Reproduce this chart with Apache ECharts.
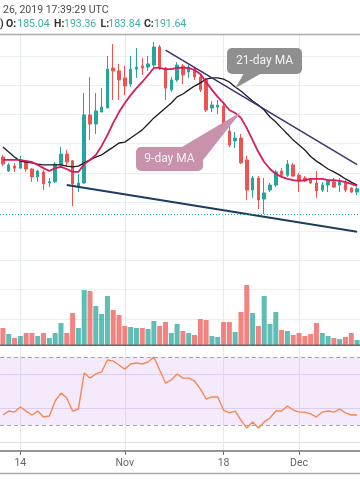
<!DOCTYPE html>
<html><head><meta charset="utf-8">
<script src="https://cdn.jsdelivr.net/npm/echarts@6/dist/echarts.min.js"></script>
<style>html,body{margin:0;padding:0;background:#fff;}#c{width:360px;height:504px;}</style>
</head><body><div id="c"></div>
<script>
const categories = [
 '2019-10-11','2019-10-12','2019-10-13','2019-10-14','2019-10-15','2019-10-16','2019-10-17','2019-10-18','2019-10-19','2019-10-20',
 '2019-10-21','2019-10-22','2019-10-23','2019-10-24','2019-10-25','2019-10-26','2019-10-27','2019-10-28','2019-10-29','2019-10-30',
 '2019-10-31','2019-11-01','2019-11-02','2019-11-03','2019-11-04','2019-11-05','2019-11-06','2019-11-07','2019-11-08','2019-11-09',
 '2019-11-10','2019-11-11','2019-11-12','2019-11-13','2019-11-14','2019-11-15','2019-11-16','2019-11-17','2019-11-18','2019-11-19',
 '2019-11-20','2019-11-21','2019-11-22','2019-11-23','2019-11-24','2019-11-25','2019-11-26','2019-11-27','2019-11-28','2019-11-29',
 '2019-11-30','2019-12-01','2019-12-02','2019-12-03','2019-12-04','2019-12-05','2019-12-06','2019-12-07','2019-12-08','2019-12-09',
 '2019-12-10','2019-12-11'
];
// [open, close, low, high]
const ohlc = [
 [155.4,153.0,152.3,156.1],[150.6,152.7,150.3,153.4],[152.3,151.6,150.3,153.4],[151.6,154.1,151.6,155.8],
 [154.1,151.3,150.3,154.4],[151.3,148.6,146.9,151.6],[148.6,150.6,146.9,151.0],[150.3,146.2,144.1,151.0],
 [146.5,146.9,145.1,148.2],[146.9,153.0,146.5,153.7],[152.7,156.4,152.3,158.8],[156.4,153.7,152.0,157.8],
 [154.1,146.2,138.6,154.4],[145.1,146.5,143.4,149.6],[146.5,169.8,146.2,177.3],[169.8,166.7,161.2,182.8],
 [166.7,171.2,163.3,177.3],[170.8,172.5,170.8,179.0],[172.2,185.5,172.2,190.0],[185.9,184.9,174.9,194.1],
 [184.9,181.8,174.9,187.3],[182.5,179.7,176.6,186.6],[180.4,185.5,179.4,190.0],[185.5,186.2,182.5,192.7],
 [186.6,185.9,183.5,189.3],[186.2,187.3,184.9,190.0],[186.9,193.1,186.2,194.8],[193.1,185.9,185.2,193.8],
 [185.9,179.0,174.9,186.2],[178.4,181.8,177.7,182.8],[181.8,186.9,181.1,187.9],[186.6,183.5,180.4,187.3],
 [184.5,186.2,182.5,186.9],[185.5,182.8,181.8,186.2],[182.8,178.4,177.7,183.8],[181.8,171.5,170.8,182.5],
 [172.2,173.2,170.8,174.6],[172.5,173.2,170.1,174.9],[172.9,165.7,165.3,173.9],[164.3,159.5,158.8,166.4],
 [160.9,161.9,158.5,164.0],[161.9,153.4,153.0,163.3],[154.4,144.1,140.7,155.8],[144.1,148.2,141.4,148.9],
 [148.2,140.7,137.6,148.9],[141.0,143.1,135.9,148.2],[144.1,145.8,143.4,146.5],[145.8,150.3,145.1,151.0],
 [150.6,149.2,148.6,151.6],[149.2,153.0,148.6,154.4],[152.7,148.9,148.6,153.4],[149.2,147.2,143.4,149.9],
 [148.2,147.2,146.9,148.9],[147.9,146.5,146.2,148.2],[146.5,143.8,141.4,150.6],[144.1,145.8,143.4,146.9],
 [145.8,147.2,143.4,147.5],[146.9,145.1,144.8,148.2],[145.8,146.9,143.4,148.2],[146.5,144.1,143.4,147.5],
 [144.8,143.4,143.1,145.1],[143.4,144.5,142.4,145.1]
];
const volume = [
 17,11,7,9,12,12,9,12,7,12, 22,12,32,17,55,54,39,31,49,35,
 30,19,18,17,17,16,24,19,23,12, 21,14,12,10,26,25,9,8,23,23,
 13,33,60,32,19,49,21,33,15,14, 10,12,9,11,22,12,9,7,6,8, 12,5
];
const ma9 = [
 154.4,154.4,154.4,154.4,154.0,153.7,152.7,151.6,150.6,151.6,
 152.0,151.3,150.3,150.3,153.0,154.4,156.1,159.2,162.9,167.1,
 170.8,173.9,176.6,179.0,181.1,183.5,185.9,185.9,185.5,185.5,
 185.9,185.9,185.9,185.2,183.8,181.1,178.4,176.0,173.9,171.5,
 170.5,168.8,165.3,161.2,157.1,153.7,151.3,149.6,148.6,147.9,
 147.5,147.2,147.5,147.9,147.9,147.9,147.5,147.5,147.2,146.8,
 146.2,145.5
];
const ma21 = [
 158.8,157.1,155.4,154.0,153.7,153.4,153.0,152.7,152.7,152.7,
 152.7,152.3,152.0,152.3,153.4,154.4,155.4,156.1,157.5,158.8,
 160.2,160.5,161.9,163.3,164.7,166.7,168.8,170.5,172.2,173.9,
 176.0,177.0,178.4,179.7,180.8,182.1,182.5,182.5,182.1,181.1,
 179.4,178.0,176.3,174.6,173.2,171.5,169.1,167.4,165.3,163.3,
 161.2,159.5,157.8,155.6,154.0,152.7,151.3,150.3,149.2,147.9,
 146.8,145.8
];
const rsi = [
 35.9,38.2,37.6,40.6,38.2,35.9,38.2,34.7,35.3,44.1,
 48.8,45.9,38.2,39.4,60.6,57.6,60.0,61.2,68.2,67.6,
 65.3,62.9,65.9,66.5,65.9,67.1,70.0,62.4,54.7,56.5,
 60.0,57.6,57.6,55.9,51.2,45.3,46.5,46.5,38.8,37.1,
 38.2,32.9,28.2,31.8,28.2,31.8,34.1,38.2,38.2,41.2,
 38.8,37.6,37.6,36.5,34.7,37.6,38.2,37.6,39.4,37.1,
 35.9,35.9
];
const upperTrend = [['2019-11-08', 192.0], ['2019-12-11', 152.8]];
const lowerTrend = [['2019-10-22', 145.8], ['2019-12-11', 129.8]];
const supportLevel = 135.9;
const rsiBand = [30, 70];
const tickDates = ['2019-10-14', '2019-11-01', '2019-11-18', '2019-12-01'];
const tickLabels = ['14', 'Nov', '18', 'Dec'];
const headerLine1 = '26, 2019 17:39:29 UTC';
const ohlcKeys = ['O:', 'H:', 'L:', 'C:'];
const ohlcVals = ['185.04', '193.36', '183.84', '191.64'];

const UP = '#26a69a', DOWN = '#ef5350';
const FONT = 'Roboto, "Noto Sans", sans-serif';
const L = -3.35, W = 365.8;

const chart = echarts.init(document.getElementById('c'), null, {renderer: 'canvas'});

const isTick = (idx, val) => tickDates.indexOf(val) >= 0;
const hiddenX = (gi) => ({type: 'category', gridIndex: gi, data: categories, boundaryGap: true, show: false});

const keyX = [6, 54, 100.5, 144];
const valX = [17.3, 64, 108.3, 154];
const graphics = [
  {type: 'line', z: 100, shape: {x1: 0, y1: 34.5, x2: 360, y2: 34.5}, style: {stroke: '#ababab', lineWidth: 1.5}},
  {type: 'line', z: 100, shape: {x1: 0, y1: 345.3, x2: 360, y2: 345.3}, style: {stroke: '#686868', lineWidth: 1.5}},
  {type: 'line', z: 100, shape: {x1: 0, y1: 473.5, x2: 360, y2: 473.5}, style: {stroke: '#a8a8a8', lineWidth: 1.5}},
  {type: 'text', z: 100, style: {text: headerLine1, x: 3, y: 10, fill: '#4a4a4a', font: '10.5px ' + FONT, verticalAlign: 'middle', textVerticalAlign: 'middle'}},
  {type: 'text', z: 100, style: {text: ')', x: 0, y: 24.5, fill: '#333', font: 'bold 10.5px ' + FONT, verticalAlign: 'middle', textVerticalAlign: 'middle'}}
];
ohlcKeys.forEach((k, i) => {
  graphics.push({type: 'text', z: 100, style: {text: k, x: keyX[i], y: 24.5, fill: '#333', font: 'bold 10.5px ' + FONT, verticalAlign: 'middle', textVerticalAlign: 'middle'}});
  graphics.push({type: 'text', z: 100, style: {text: ohlcVals[i], x: valX[i], y: 24.5, fill: '#3fae a2'.replace(' ', ''), font: '10.5px ' + FONT, verticalAlign: 'middle', textVerticalAlign: 'middle'}});
});
// callouts
graphics.push(
  {type: 'polygon', z: 110, shape: {points: [[244, 73], [262, 73], [235.5, 88]]}, style: {fill: '#8f8f8f'}},
  {type: 'rect', z: 110, shape: {x: 227, y: 48, width: 75, height: 26, r: 5}, style: {fill: '#8f8f8f'}},
  {type: 'text', z: 111, style: {text: '21-day MA', x: 264.5, y: 61, fill: '#f2f2f2', font: '12px ' + FONT, align: 'center', textAlign: 'center', verticalAlign: 'middle', textVerticalAlign: 'middle'}},
  {type: 'polygon', z: 110, shape: {points: [[181, 147.5], [203, 160], [241, 112]]}, style: {fill: '#c891ac'}},
  {type: 'rect', z: 110, shape: {x: 136, y: 147, width: 67, height: 24, r: 5}, style: {fill: '#c891ac'}},
  {type: 'text', z: 111, style: {text: '9-day MA', x: 169.5, y: 159, fill: '#f8f1f5', font: '12px ' + FONT, align: 'center', textAlign: 'center', verticalAlign: 'middle', textVerticalAlign: 'middle'}}
);

const option = {
  animation: false,
  backgroundColor: '#ffffff',
  grid: [
    {left: L, width: W, top: 26.8, height: 321.2},
    {left: L, width: W, top: 245, height: 100},
    {left: L, width: W, top: 340, height: 136},
    {left: L, width: W, top: 35, height: 416}
  ],
  xAxis: [
    hiddenX(0), hiddenX(1), hiddenX(2),
    {type: 'category', gridIndex: 3, data: categories, boundaryGap: true,
     axisLine: {show: true, lineStyle: {color: '#727272', width: 1.5}},
     axisTick: {show: true, alignWithLabel: true, interval: isTick, length: 4, lineStyle: {color: '#727272', width: 1}},
     axisLabel: {show: true, interval: isTick, margin: 7, color: '#666', fontSize: 10.5, fontFamily: FONT,
       formatter: (v) => tickLabels[tickDates.indexOf(v)] || ''},
     splitLine: {show: false}}
  ],
  yAxis: [
    {type: 'value', gridIndex: 0, min: 90, max: 200, interval: 10,
     axisLine: {show: false}, axisTick: {show: false}, axisLabel: {show: false},
     splitLine: {show: true, showMinLine: false, showMaxLine: false, lineStyle: {color: '#eaeff3', width: 1}}},
    {type: 'value', gridIndex: 1, min: 0, max: 100, show: false},
    {type: 'value', gridIndex: 2, min: 0, max: 80, interval: 20,
     axisLine: {show: false}, axisTick: {show: false}, axisLabel: {show: false},
     splitLine: {show: true, showMinLine: false, showMaxLine: false, lineStyle: {color: '#e3deee', width: 1}}},
    {type: 'value', gridIndex: 3, min: 0, max: 1, show: false}
  ],
  series: [
    {type: 'line', name: 'frame', xAxisIndex: 3, yAxisIndex: 3, data: categories.map(() => null), z: 0,
     silent: true, showSymbol: false,
     markLine: {z: 0, silent: true, symbol: ['none', 'none'], label: {show: false}, animation: false,
       lineStyle: {color: '#e2eaef', width: 1, type: 'solid'},
       data: tickDates.map(d => ({xAxis: d}))}},
    {type: 'bar', name: 'Volume', xAxisIndex: 1, yAxisIndex: 1, barWidth: 5, z: 1,
     data: volume.map((v, i) => ({value: v, itemStyle: {color: ohlc[i][1] >= ohlc[i][0] ? 'rgba(38,166,154,0.74)' : 'rgba(239,83,80,0.72)'}}))},
    {type: 'candlestick', name: 'Price', xAxisIndex: 0, yAxisIndex: 0, barWidth: 3, z: 2,
     data: ohlc,
     itemStyle: {color: UP, color0: DOWN, borderColor: UP, borderColor0: DOWN, borderWidth: 1},
     markLine: {silent: true, symbol: ['none', 'none'], label: {show: false}, animation: false,
       lineStyle: {color: UP, width: 1, type: [1, 2]},
       data: [{yAxis: supportLevel}]}},
    {type: 'line', name: 'MA21', xAxisIndex: 0, yAxisIndex: 0, data: ma21, showSymbol: false, symbol: 'none', z: 3,
     lineStyle: {color: '#1c1c1c', width: 1.3}},
    {type: 'line', name: 'MA9', xAxisIndex: 0, yAxisIndex: 0, data: ma9, showSymbol: false, symbol: 'none', z: 3,
     lineStyle: {color: '#d81b5f', width: 1.8}},
    {type: 'line', name: 'Upper trend', xAxisIndex: 0, yAxisIndex: 0, data: upperTrend, showSymbol: false, symbol: 'none', z: 4,
     lineStyle: {color: '#3a2f75', width: 1.5}},
    {type: 'line', name: 'Lower trend', xAxisIndex: 0, yAxisIndex: 0, data: lowerTrend, showSymbol: false, symbol: 'none', z: 4,
     lineStyle: {color: '#1f3b60', width: 2}},
    {type: 'line', name: 'RSI', xAxisIndex: 2, yAxisIndex: 2, data: rsi, showSymbol: false, symbol: 'none', z: 3,
     lineStyle: {color: '#f5884f', width: 1.4},
     markArea: {silent: true, itemStyle: {color: 'rgba(175,105,235,0.14)'}, data: [[{yAxis: rsiBand[0]}, {yAxis: rsiBand[1]}]]},
     markLine: {silent: true, symbol: ['none', 'none'], label: {show: false}, animation: false,
       lineStyle: {color: '#a9a6b0', width: 1, type: [4, 3]},
       data: rsiBand.map(v => ({yAxis: v}))}}
  ],
  graphic: graphics
};
chart.setOption(option);
</script>
</body></html>
